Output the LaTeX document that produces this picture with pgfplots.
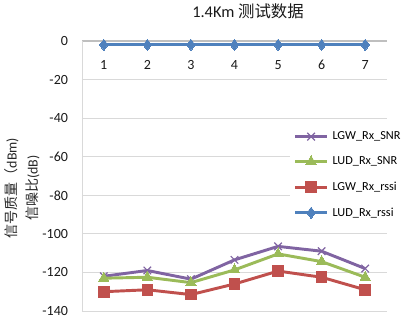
\documentclass[border=0pt]{standalone}
\usepackage{fontspec}
\setmainfont{Carlito}
\newfontfamily\cjk{Noto Sans CJK SC}
\usepackage{pgfplots}
\pgfplotsset{compat=1.18}
\definecolor{cSNRgw}{HTML}{8064A2}
\definecolor{cSNRud}{HTML}{9BBB59}
\definecolor{cRSgw}{HTML}{C0504D}
\definecolor{cRSud}{HTML}{4F81BD}
\definecolor{gridc}{HTML}{D9D9D9}
\definecolor{axisc}{HTML}{BFBFBF}

\begin{document}
\begin{tikzpicture}
\useasboundingbox (-61.5pt,-6.75pt) rectangle (239.25pt,233.25pt);
\begin{axis}[
  at={(0,0)}, anchor=south west,
  scale only axis,
  width=228.75pt, height=202.5pt,
  xmin=0.5, xmax=7.5,
  ymin=-140, ymax=0,
  ytick={-140,-120,...,0},
  xtick={1,...,7},
  axis x line*=top,
  axis y line*=left,
  x axis line style={axisc, line width=0.8pt, -},
  y axis line style={gridc, line width=0.6pt, -},
  major tick length=0pt,
  ymajorgrids,
  grid style={gridc, line width=0.6pt},
  tick label style={font=\fontsize{10.5}{12}\selectfont, text=black!90},
  /pgf/number format/assume math mode=true,
  xticklabel shift=0pt,
  xticklabel style={anchor=center, yshift=-18pt},
  yticklabel style={xshift=-7pt},
  legend cell align=left,
  legend style={at={(rel axis cs:0.68,0.69)}, anchor=north west,
    draw=none, fill=white, font=\fontsize{9.2}{11}\selectfont,
    row sep=7.4pt, inner xsep=3pt, inner ysep=3pt,
    /tikz/every odd column/.append style={column sep=1pt}},
  legend image code/.code={
    \draw[mark repeat=2,mark phase=2] plot coordinates {(0pt,0pt)(12pt,0pt)(24pt,0pt)};},
  every axis plot/.append style={line width=2.2pt},
]
\addplot[cSNRgw, mark=x, mark size=4pt, mark options={line width=0.9pt}]
  coordinates {(1,-122) (2,-119) (3,-123.5) (4,-113.5) (5,-106.5) (6,-109) (7,-118)};
\addlegendentry{LGW\_Rx\_SNR}
\addplot[cSNRud, mark=triangle*, mark size=4.5pt, mark options={line width=0pt}]
  coordinates {(1,-123) (2,-122.5) (3,-125.3) (4,-118.7) (5,-110.4) (6,-114.4) (7,-122.5)};
\addlegendentry{LUD\_Rx\_SNR}
\addplot[cRSgw, mark=square*, mark size=4pt, mark options={line width=0pt}]
  coordinates {(1,-130) (2,-129) (3,-131.5) (4,-126) (5,-119.3) (6,-122.5) (7,-129)};
\addlegendentry{LGW\_Rx\_rssi}
\addplot[cRSud, mark=diamond*, mark size=4.2pt, mark options={line width=0pt}]
  coordinates {(1,-2) (2,-2) (3,-2) (4,-2) (5,-2) (6,-2) (7,-2)};
\addlegendentry{LUD\_Rx\_rssi}
\end{axis}
\node[font=\fontsize{12.3}{14}\selectfont, text=black!90] at (124.5pt,224.5pt)
  {1.4Km {\cjk 测试数据}};
\node[rotate=90, align=center, font=\fontsize{10.5}{15.75}\selectfont, text=black!85]
  at (-45pt,92.25pt) {{\cjk 信号质量（}dBm)\\{\cjk 信噪比}(dB)};
\end{tikzpicture}
\end{document}
